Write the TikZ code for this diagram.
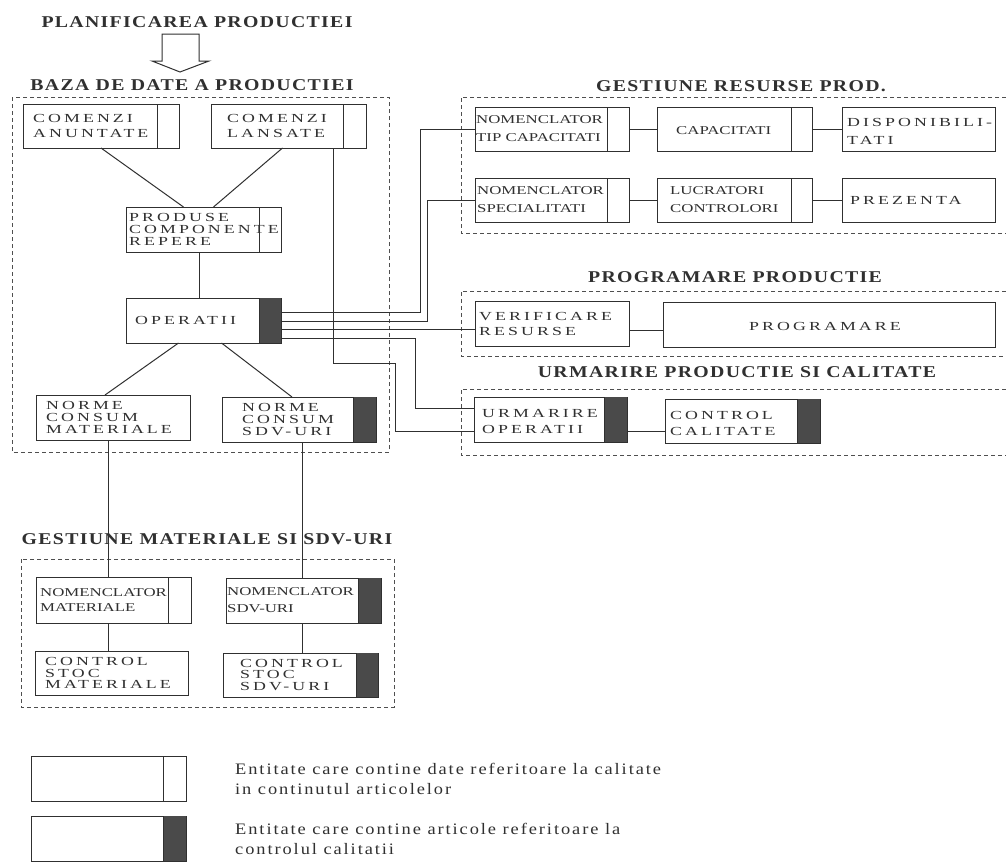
\documentclass[tikz,border=0pt]{standalone}
\usepackage{fontspec}
\setmainfont{Liberation Serif}
\newfontfamily\headfont{Liberation Serif}[FakeStretch=1.2,LetterSpace=8]
\newfontfamily\widefont{Liberation Serif}[FakeStretch=1.45,LetterSpace=25]
\newfontfamily\narrowfont{Liberation Serif}[FakeStretch=1.4]
\newfontfamily\legfont{Liberation Serif}[FakeStretch=1.15,LetterSpace=12]
\usetikzlibrary{calc}
\definecolor{ink}{HTML}{303030}
\definecolor{darkf}{HTML}{4A4A4A}
\tikzset{
  ebox/.style={draw=ink, line width=1pt, rectangle, inner sep=0pt, outer sep=0pt, fill=white},
  frame/.style={draw=ink!85, line width=0.9pt, dash pattern=on 4pt off 3pt},
  link/.style={draw=ink, line width=1pt},
  wtxt/.style={font={\widefont\fontsize{12.3}{#1}\selectfont}, text=ink, inner sep=0pt, align=left, anchor=west},
  wtxt/.default=15,
  ntxt/.style={font={\narrowfont\fontsize{12}{#1}\selectfont}, text=ink, inner sep=0pt, align=left, anchor=west},
  ntxt/.default=18,
  head/.style={font={\headfont\bfseries\fontsize{16.5}{18}\selectfont}, text=ink, inner sep=0pt},
  ltxt/.style={font={\legfont\fontsize{16}{20}\selectfont}, text=ink, inner sep=0pt, align=left, anchor=west},
}
% name x1 y1 x2 y2 divx kind(0 plain,1 divider,2 dark)
\newcommand\ent[7]{%
  \node[ebox, minimum width={(#4-#2)*1pt}, minimum height={(#5-#3)*1pt}] (#1) at ({(#2+#4)/2},{(#3+#5)/2}) {};
  \ifcase#7\relax
  \or \draw[link] (#6,#3) -- (#6,#5);
  \or \fill[darkf] (#6,#3) rectangle (#4,#5); \draw[link] (#6,#3) -- (#6,#5);
  \fi
}
\begin{document}
\begin{tikzpicture}[x=1pt,y=-1pt]
\useasboundingbox[fill=white] (0,0) rectangle (1006,862);

% titles
\node[head] (t-plan) at (197,22) {PLANIFICAREA PRODUCTIEI};
\node[head] (t-baza) at (192,85) {BAZA DE DATE A PRODUCTIEI};
\node[head] (t-gres) at (741,86) {GESTIUNE RESURSE PROD.};
\node[head] (t-prog) at (735,277) {PROGRAMARE PRODUCTIE};
\node[head] (t-urm) at (737,372) {URMARIRE PRODUCTIE SI CALITATE};
\node[head] (t-gmat) at (207,539) {GESTIUNE MATERIALE SI SDV-URI};

% hollow arrow
\draw[ink, line width=1pt] (162,34) -- (199,34) -- (199,61) -- (209,61) -- (180,72) -- (152,61) -- (162,61) -- cycle;

% frames
\draw[frame] (12,97) rectangle (389,452);
\draw[frame] (21,559) rectangle (394,707);
\draw[frame] (1006,97) -- (461,97) -- (461,233) -- (1006,233);
\draw[frame] (1006,291) -- (461,291) -- (461,356) -- (1006,356);
\draw[frame] (1006,389) -- (461,389) -- (461,455) -- (1006,455);

% track coordinates
\coordinate (vm) at (108,0);
\coordinate (vs) at (302,0);
\coordinate (vl) at (333,0);
\coordinate (vr) at (395,0);
\coordinate (v1) at (420,0);
\coordinate (v2) at (427,0);
\coordinate (v4) at (415,0);
\coordinate (h1) at (0,312);
\coordinate (h2) at (0,321);
\coordinate (h3) at (0,329);
\coordinate (h4) at (0,338);
\coordinate (hl) at (0,363);
\coordinate (hu1) at (0,408);
\coordinate (hu2) at (0,431);
\coordinate (hr1) at (0,129);
\coordinate (hr2) at (0,200);
\coordinate (hp) at (0,330);

% entities
\ent{anu}{23}{104}{179}{148}{157}{1}
\ent{lans}{211}{104}{366}{148}{343}{1}
\ent{prod}{126}{207}{281}{252}{259}{1}
\ent{oper}{126}{298}{281}{343}{259}{2}
\ent{nmat}{36}{395}{190}{440}{0}{0}
\ent{nsdv}{222}{397}{376}{442}{353}{2}
\ent{nomtip}{475}{107}{629}{151}{607}{1}
\ent{cap}{657}{107}{812}{151}{791}{1}
\ent{disp}{842}{107}{995}{151}{0}{0}
\ent{nomspec}{475}{178}{629}{222}{607}{1}
\ent{lucr}{657}{178}{812}{222}{791}{1}
\ent{prez}{842}{178}{995}{222}{0}{0}
\ent{verif}{475}{301}{629}{346}{0}{0}
\ent{prog}{663}{302}{995}{347}{0}{0}
\ent{urmop}{474}{397}{627}{442}{604}{2}
\ent{ctrl}{665}{399}{820}{443}{797}{2}
\ent{nommat}{36}{577}{191}{623}{168}{1}
\ent{nomsdv}{226}{578}{381}{623}{358}{2}
\ent{cmat}{35}{651}{188}{695}{0}{0}
\ent{csdv}{223}{653}{378}{697}{356}{2}
\ent{leg1}{31}{756}{186}{801}{163}{1}
\ent{leg2}{31}{816}{186}{861}{163}{2}

% connectors
\draw[link] (anu.south) -- ($(prod.north)+(-20,0)$);
\draw[link] ($(lans.south)+(-6,0)$) -- ($(prod.north)+(10,0)$);
\draw[link] ($(prod.south)+(-4,0)$) -- ($(oper.north)+(-4,0)$);
\draw[link] ($(oper.south)+(-25,0)$) -- ($(nmat.north)+(-8,0)$);
\draw[link] ($(oper.south)+(18,0)$) -- ($(nsdv.north)+(-7,0)$);
\draw[link] (nmat.south -| vm) -- (nommat.north -| vm);
\draw[link] (nommat.south -| vm) -- (cmat.north -| vm);
\draw[link] (nsdv.south -| vs) -- (nomsdv.north -| vs);
\draw[link] (nomsdv.south -| vs) -- (csdv.north -| vs);
\draw[link] (lans.south -| vl) -- (vl |- hl) -- (vr |- hl) -- (vr |- hu2) -- (urmop.west |- hu2);
\draw[link] (oper.east |- h1) -- (v1 |- h1) -- (v1 |- hr1) -- (nomtip.west |- hr1);
\draw[link] (oper.east |- h2) -- (v2 |- h2) -- (v2 |- hr2) -- (nomspec.west |- hr2);
\draw[link] (oper.east |- h3) -- (verif.west |- h3);
\draw[link] (oper.east |- h4) -- (v4 |- h4) -- (v4 |- hu1) -- (urmop.west |- hu1);
\draw[link] (nomtip.east) -- (cap.west);
\draw[link] (cap.east) -- (disp.west);
\draw[link] (nomspec.east) -- (lucr.west);
\draw[link] (lucr.east) -- (prez.west);
\draw[link] (verif.east |- hp) -- (prog.west |- hp);
\draw[link] (urmop.east |- hu2) -- (ctrl.west |- hu2);

% texts
\node[wtxt] (anu-t) at ([xshift=10pt]anu.west) {COMENZI\\ANUNTATE};
\node[wtxt] (lans-t) at ([xshift=16pt]lans.west) {COMENZI\\LANSATE};
\node[wtxt=12] (prod-t) at ([xshift=3pt]prod.west) {PRODUSE\\COMPONENTE\\REPERE};
\node[wtxt] (oper-t) at ([xshift=9pt]oper.west) {OPERATII};
\node[wtxt=12] (nmat-t) at ([xshift=10pt]nmat.west) {NORME\\CONSUM\\MATERIALE};
\node[wtxt=12] (nsdv-t) at ([xshift=20pt]nsdv.west) {NORME\\CONSUM\\SDV-URI};
\node[ntxt] (nomtip-t) at ([xshift=1pt]nomtip.west) {NOMENCLATOR\\TIP CAPACITATI};
\node[ntxt] (cap-t) at ([xshift=19pt,yshift=-2pt]cap.west) {CAPACITATI};
\node[wtxt=18] (disp-t) at ([xshift=5pt,yshift=-2pt]disp.west) {DISPONIBILI-\\TATI};
\node[ntxt] (nomspec-t) at ([xshift=2pt]nomspec.west) {NOMENCLATOR\\SPECIALITATI};
\node[ntxt] (lucr-t) at ([xshift=13pt]lucr.west) {LUCRATORI\\CONTROLORI};
\node[wtxt] (prez-t) at ([xshift=8pt]prez.west) {PREZENTA};
\node[wtxt] (verif-t) at ([xshift=4pt]verif.west) {VERIFICARE\\RESURSE};
\node[wtxt, anchor=center] (prog-t) at ([xshift=-4pt,yshift=-2pt]prog.center) {PROGRAMARE};
\node[wtxt=16] (urmop-t) at ([xshift=8pt,yshift=-2pt]urmop.west) {URMARIRE\\OPERATII};
\node[wtxt=16] (ctrl-t) at ([xshift=5pt,yshift=-2pt]ctrl.west) {CONTROL\\CALITATE};
\node[ntxt=15.5] (nommat-t) at ([xshift=4pt]nommat.west) {NOMENCLATOR\\MATERIALE};
\node[ntxt=17] (nomsdv-t) at ([xshift=1pt]nomsdv.west) {NOMENCLATOR\\SDV-URI};
\node[wtxt=11.5] (cmat-t) at ([xshift=10pt]cmat.west) {CONTROL\\STOC\\MATERIALE};
\node[wtxt=11.5] (csdv-t) at ([xshift=17pt]csdv.west) {CONTROL\\STOC\\SDV-URI};

% legend
\node[ltxt] (leg1-t) at (235,779) {Entitate care contine date referitoare la calitate\\in continutul articolelor};
\node[ltxt] (leg2-t) at (235,839) {Entitate care contine articole referitoare la\\controlul calitatii};
\end{tikzpicture}
\end{document}
